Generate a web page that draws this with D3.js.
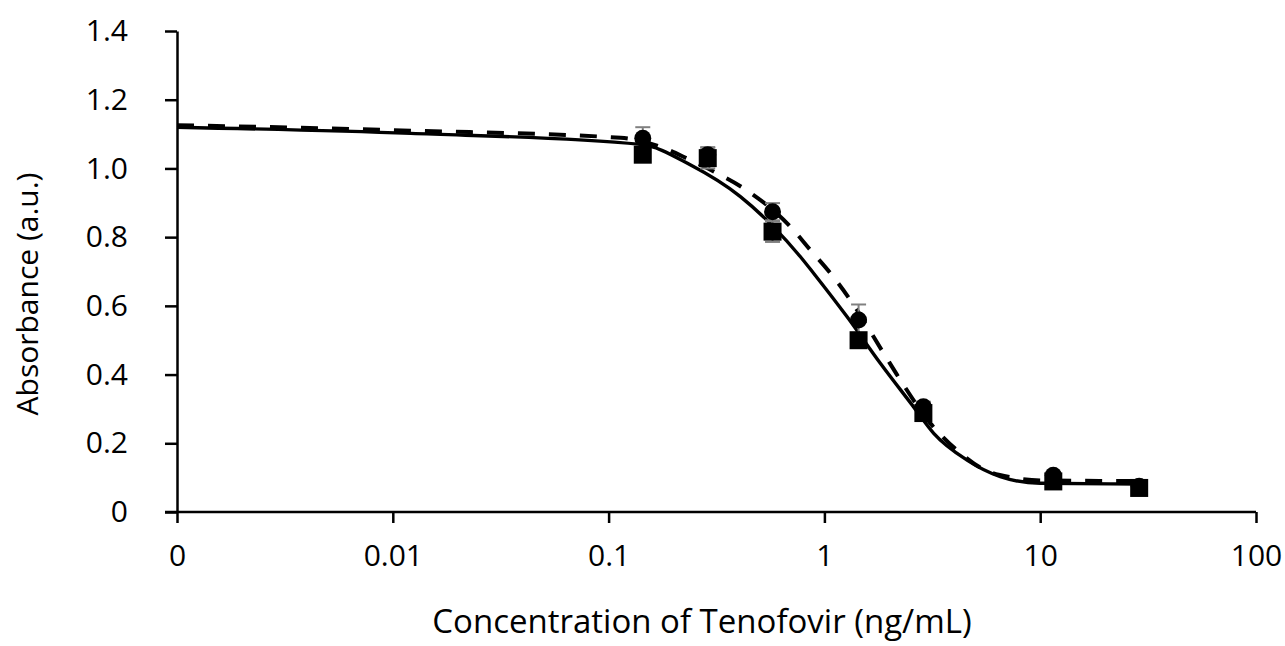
<!DOCTYPE html>
<html>
<head>
<meta charset="utf-8">
<script src="https://cdn.jsdelivr.net/npm/d3@7"></script>
<style>
  html, body { margin: 0; padding: 0; background: #fff; }
  svg text { font-family: "Open Sans", "Noto Sans", sans-serif; fill: #000; }
</style>
</head>
<body>
<svg id="chart" width="1285" height="646"></svg>
<script>
// ---- data ----
const concentrations = [0.144, 0.288, 0.575, 1.44, 2.875, 11.5, 28.75];
const circleValues   = [1.088, 1.040, 0.874, 0.559, 0.306, 0.107, 0.075];
const circleErrors   = [0.032, 0.022, 0.025, 0.045, 0.015, 0.010, 0.008];
const squareValues   = [1.040, 1.030, 0.816, 0.500, 0.288, 0.089, 0.070];
const squareErrors   = [0.012, 0.030, 0.030, 0.015, 0.015, 0.008, 0.008];

// fitted curves (traced points)
const solidCurveX = [0.001, 0.0121, 0.1406, 0.240, 0.408, 0.581, 0.774, 0.891, 1.274, 1.816, 2.59, 3.21, 4.58, 6.53, 10, 28.4];
const solidCurveY = [1.120, 1.102, 1.070, 1.010, 0.918, 0.830, 0.743, 0.695, 0.568, 0.433, 0.306, 0.229, 0.151, 0.103, 0.0835, 0.0815];
const dashedCurveX = [0.001, 0.0121, 0.1138, 0.174, 0.231, 0.318, 0.423, 0.697, 0.861, 1.066, 1.319, 1.882, 2.25, 3.10, 4.19, 5.47, 7.52, 10, 28.4];
const dashedCurveY = [1.126, 1.110, 1.089, 1.063, 1.029, 0.986, 0.942, 0.830, 0.7625, 0.695, 0.617, 0.462, 0.384, 0.258, 0.1755, 0.124, 0.100, 0.092, 0.090];

const xTickValues = [0.001, 0.01, 0.1, 1, 10, 100];
const xTickLabels = ["0", "0.01", "0.1", "1", "10", "100"];
const yTickValues = [0, 0.2, 0.4, 0.6, 0.8, 1.0, 1.2, 1.4];
const yTickLabels = ["0", "0.2", "0.4", "0.6", "0.8", "1.0", "1.2", "1.4"];

const xTitle = "Concentration of Tenofovir (ng/mL)";
const yTitle = "Absorbance (a.u.)";

// ---- layout ----
const svg = d3.select("#chart");
const x = d3.scaleLog().domain([0.001, 100]).range([177, 1256]);
const y = d3.scaleLinear().domain([0, 1.4]).range([512, 31]);

// axes
const xAxis = d3.axisBottom(x).tickValues(xTickValues)
  .tickFormat((d, i) => xTickLabels[i]).tickSize(11).tickSizeOuter(0).tickPadding(22);
const gx = svg.append("g").attr("transform", `translate(0,${y(0)})`).call(xAxis);
gx.select(".domain").attr("stroke", "#000").attr("stroke-width", 2.5)
  .attr("d", `M165,0H${x(100)}`);
gx.selectAll(".tick line").attr("stroke", "#000").attr("stroke-width", 2.5);
gx.selectAll(".tick text").attr("font-size", 30).attr("font-family", '"Open Sans", sans-serif').attr("fill", "#000");

const yAxis = d3.axisLeft(y).tickValues(yTickValues)
  .tickFormat((d, i) => yTickLabels[i]).tickSize(12).tickSizeOuter(0).tickPadding(37);
const gy = svg.append("g").attr("transform", `translate(${x(0.001)},0)`).call(yAxis);
gy.select(".domain").attr("stroke", "#000").attr("stroke-width", 2.5);
gy.selectAll(".tick line").attr("stroke", "#000").attr("stroke-width", 2.5);
gy.selectAll(".tick text").attr("font-size", 30).attr("font-family", '"Open Sans", sans-serif').attr("fill", "#000");

// titles
svg.append("text").attr("x", 702).attr("y", 633).attr("text-anchor", "middle")
  .attr("font-size", 33).text(xTitle);
svg.append("text").attr("transform", `translate(38,294) rotate(-90)`)
  .attr("text-anchor", "middle").attr("font-size", 30).text(yTitle);

// curves
const line = d3.line().x(d => x(d[0])).y(d => y(d[1])).curve(d3.curveMonotoneX);
svg.append("path").datum(solidCurveX.map((v, i) => [v, solidCurveY[i]]))
  .attr("d", line).attr("fill", "none").attr("stroke", "#000").attr("stroke-width", 3.4);
svg.append("path").datum(dashedCurveX.map((v, i) => [v, dashedCurveY[i]]))
  .attr("d", line).attr("fill", "none").attr("stroke", "#000").attr("stroke-width", 4)
  .attr("stroke-dasharray", "17,14");

// error bars
function errorBars(vals, errs) {
  const g = svg.append("g").attr("stroke", "#808080").attr("stroke-width", 2);
  concentrations.forEach((c, i) => {
    const cx = x(c);
    g.append("line").attr("x1", cx).attr("x2", cx).attr("y1", y(vals[i] - errs[i])).attr("y2", y(vals[i] + errs[i]));
    g.append("line").attr("x1", cx - 7.5).attr("x2", cx + 7.5).attr("y1", y(vals[i] + errs[i])).attr("y2", y(vals[i] + errs[i]));
    g.append("line").attr("x1", cx - 7.5).attr("x2", cx + 7.5).attr("y1", y(vals[i] - errs[i])).attr("y2", y(vals[i] - errs[i]));
  });
}
errorBars(squareValues, squareErrors);
errorBars(circleValues, circleErrors);

// markers
svg.append("g").selectAll("rect").data(concentrations).join("rect")
  .attr("x", d => x(d) - 9).attr("y", (d, i) => y(squareValues[i]) - 9)
  .attr("width", 18).attr("height", 18).attr("fill", "#000");
svg.append("g").selectAll("circle").data(concentrations).join("circle")
  .attr("cx", d => x(d)).attr("cy", (d, i) => y(circleValues[i]))
  .attr("r", 8.5).attr("fill", "#000");
</script>
</body>
</html>
